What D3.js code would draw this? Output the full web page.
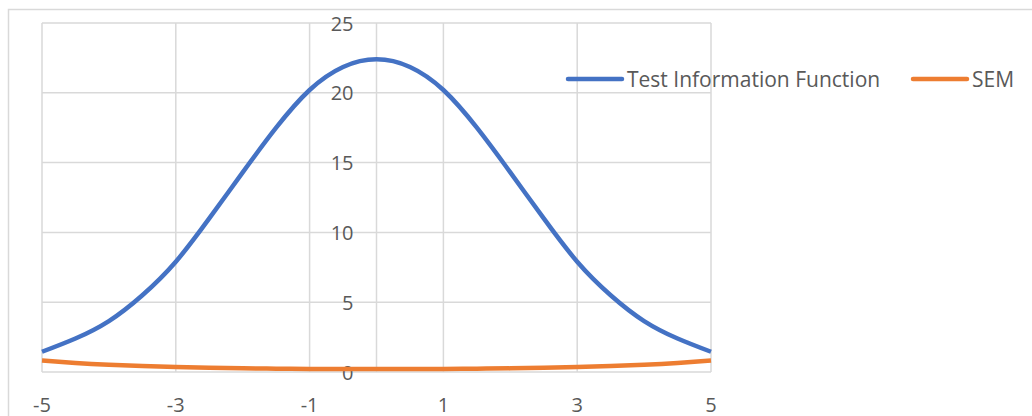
<!DOCTYPE html>
<html>
<head>
<meta charset="utf-8">
<script src="https://cdn.jsdelivr.net/npm/d3@7"></script>
<style>
  html, body { margin: 0; padding: 0; background: #fff; }
  svg { display: block; }
  text { font-family: "Open Sans", "Liberation Sans", sans-serif; fill: #595959; }
</style>
</head>
<body>
<svg id="chart" width="1032" height="416"></svg>
<script>
// ---- data ----
const theta = [-5, -4.5, -4, -3.5, -3, -2.5, -2, -1.5, -1, -0.5, 0, 0.5, 1, 1.5, 2, 2.5, 3, 3.5, 4, 4.5, 5];
const tif   = [1.45, 2.4, 3.65, 5.5, 7.9, 11.0, 14.3, 17.5, 20.2, 21.85, 22.4, 21.85, 20.2, 17.5, 14.3, 11.0, 7.9, 5.5, 3.65, 2.4, 1.45];
const sem   = [0.83, 0.65, 0.52, 0.43, 0.36, 0.30, 0.26, 0.24, 0.22, 0.21, 0.21, 0.21, 0.22, 0.24, 0.26, 0.30, 0.36, 0.43, 0.52, 0.65, 0.83];
const xTicks = [-5, -3, -1, 1, 3, 5];
const yTicks = [0, 5, 10, 15, 20, 25];
const seriesNames = ["Test Information Function", "SEM"];
const seriesColors = ["#4472C4", "#ED7D31"];

// ---- drawing ----
const svg = d3.select("#chart");
const x = d3.scaleLinear().domain([-5, 5]).range([42, 711]);
const y = d3.scaleLinear().domain([0, 25]).range([372, 23]);
const grid = "#d9d9d9";

// outer chart border (extends beyond the visible window)
svg.append("rect")
  .attr("x", 8.5).attr("y", 9.5).attr("width", 1100).attr("height", 500)
  .attr("fill", "none").attr("stroke", grid).attr("stroke-width", 1.5);

// horizontal gridlines
svg.append("g").selectAll("line").data(yTicks).join("line")
  .attr("x1", x(-5)).attr("x2", x(5))
  .attr("y1", d => y(d)).attr("y2", d => y(d))
  .attr("stroke", grid).attr("stroke-width", 1.5);

// vertical gridlines
svg.append("g").selectAll("line").data(xTicks).join("line")
  .attr("x1", d => x(d)).attr("x2", d => x(d))
  .attr("y1", y(0)).attr("y2", y(25))
  .attr("stroke", grid).attr("stroke-width", 1.5);

// vertical axis line at x = 0
svg.append("line")
  .attr("x1", x(0)).attr("x2", x(0)).attr("y1", y(0)).attr("y2", y(25))
  .attr("stroke", grid).attr("stroke-width", 1.5);

// y tick labels (next to the axis at x = 0)
svg.append("g").selectAll("text").data(yTicks).join("text")
  .attr("x", x(0) - 23).attr("y", d => y(d))
  .attr("text-anchor", "end").attr("dominant-baseline", "central")
  .style("font-size", "20px")
  .text(d => d);

// x tick labels
svg.append("g").selectAll("text").data(xTicks).join("text")
  .attr("x", d => x(d)).attr("y", 404)
  .attr("text-anchor", "middle").attr("dominant-baseline", "central")
  .style("font-size", "20px")
  .text(d => d);

// series lines
const line = d3.line().curve(d3.curveNatural)
  .x((d, i) => x(theta[i])).y(d => y(d));

[tif, sem].forEach((vals, k) => {
  svg.append("path")
    .attr("d", line(vals))
    .attr("fill", "none")
    .attr("stroke", seriesColors[k])
    .attr("stroke-width", 4.5)
    .attr("stroke-linejoin", "round")
    .attr("stroke-linecap", "butt");
});

// legend
const legendPos = [568, 913];
seriesNames.forEach((name, k) => {
  const g = svg.append("g").attr("transform", `translate(${legendPos[k]},79)`);
  g.append("line").attr("x1", 0).attr("x2", 54).attr("y1", 0).attr("y2", 0)
    .attr("stroke", seriesColors[k]).attr("stroke-width", 4.5).attr("stroke-linecap", "round");
  g.append("text").attr("x", 59).attr("y", 0)
    .attr("dominant-baseline", "central")
    .style("font-size", "21px")
    .text(name);
});
</script>
</body>
</html>
